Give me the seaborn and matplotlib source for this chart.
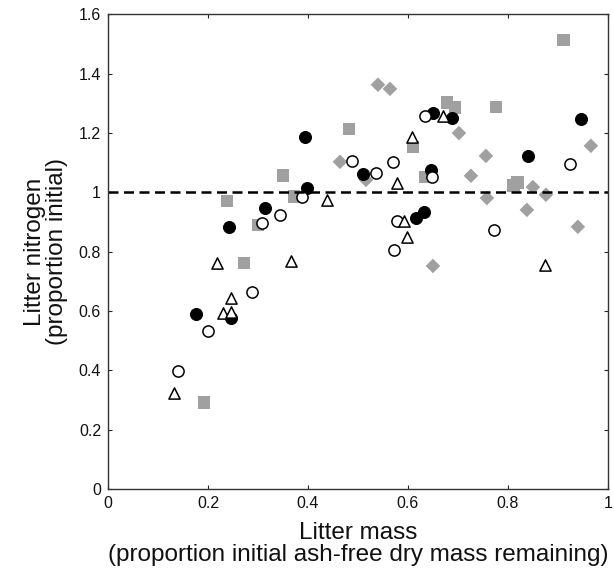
import matplotlib
matplotlib.use("Agg")
import matplotlib.pyplot as plt
import seaborn as sns
import pandas as pd

# values
filled_x = [0.176, 0.246, 0.242, 0.314, 0.394, 0.398, 0.51, 0.616, 0.632, 0.646, 0.65, 0.688, 0.84, 0.946]
filled_y = [0.590, 0.577, 0.884, 0.948, 1.187, 1.015, 1.062, 0.914, 0.934, 1.076, 1.268, 1.251, 1.123, 1.248]

open_x = [0.14, 0.2, 0.288, 0.308, 0.344, 0.388, 0.488, 0.536, 0.57, 0.572, 0.578, 0.634, 0.648, 0.772, 0.924]
open_y = [0.398, 0.533, 0.664, 0.897, 0.924, 0.985, 1.106, 1.066, 1.103, 0.806, 0.904, 1.258, 1.052, 0.873, 1.096]

tri_x = [0.132, 0.23, 0.246, 0.246, 0.218, 0.366, 0.438, 0.578, 0.592, 0.598, 0.608, 0.67, 0.874]
tri_y = [0.324, 0.594, 0.597, 0.644, 0.762, 0.769, 0.975, 1.032, 0.904, 0.850, 1.187, 1.258, 0.755]

sq_x = [0.192, 0.238, 0.272, 0.30, 0.35, 0.372, 0.482, 0.61, 0.634, 0.678, 0.694, 0.776, 0.812, 0.82, 0.912]
sq_y = [0.293, 0.971, 0.762, 0.890, 1.056, 0.985, 1.214, 1.153, 1.052, 1.302, 1.285, 1.288, 1.022, 1.032, 1.514]

dia_x = [0.464, 0.516, 0.54, 0.564, 0.65, 0.702, 0.726, 0.756, 0.758, 0.838, 0.85, 0.876, 0.94, 0.966]
dia_y = [1.103, 1.042, 1.363, 1.349, 0.752, 1.2, 1.056, 1.123, 0.981, 0.941, 1.018, 0.992, 0.884, 1.157]

x_ticks = [0, 0.2, 0.4, 0.6, 0.8, 1]
y_ticks = [0, 0.2, 0.4, 0.6, 0.8, 1, 1.2, 1.4, 1.6]

sns.set_style("ticks")
plt.rcParams["font.family"] = ["Liberation Sans", "DejaVu Sans"]
plt.rcParams["xtick.direction"] = "in"
plt.rcParams["ytick.direction"] = "in"

fig = plt.figure(figsize=(6.14, 5.76), dpi=100)
ax = fig.add_axes([0.176, 0.151, 0.814, 0.824])

gray = "#a0a0a0"
sns.scatterplot(x=sq_x, y=sq_y, marker="s", s=85, color=gray, edgecolor="none", ax=ax)
sns.scatterplot(x=dia_x, y=dia_y, marker="D", s=55, color=gray, edgecolor="none", ax=ax)
sns.scatterplot(x=filled_x, y=filled_y, marker="o", s=75, color="black", edgecolor="black", ax=ax)
sns.scatterplot(x=open_x, y=open_y, marker="o", s=65, facecolor="white", edgecolor="black",
                linewidth=1.1, ax=ax)
sns.scatterplot(x=tri_x, y=tri_y, marker="^", s=65, facecolor="white", edgecolor="black",
                linewidth=1.1, ax=ax)

ax.axhline(1, color="black", lw=1.8, ls=(0, (4, 2.2)), zorder=1)

ax.set_xlim(0, 1)
ax.set_ylim(0, 1.6)
ax.set_xticks(x_ticks)
ax.set_yticks(y_ticks)
ax.set_xticklabels([f"{v:g}" for v in x_ticks])
ax.set_yticklabels([f"{v:g}" for v in y_ticks])
ax.tick_params(labelsize=11.5, length=3, width=0.8, top=True, right=True, pad=5,
               labelcolor="#111111")
for sp in ax.spines.values():
    sp.set_linewidth(1.0)
    sp.set_color("#333333")

ax.set_xlabel("Litter mass\n(proportion initial ash-free dry mass remaining)",
              fontsize=17.5, linespacing=1.0, labelpad=8, color="#111111")
ax.set_ylabel("Litter nitrogen\n(proportion initial)", fontsize=17.5, linespacing=1.0,
              labelpad=8, color="#111111")

fig.savefig("out.png", dpi=100)
